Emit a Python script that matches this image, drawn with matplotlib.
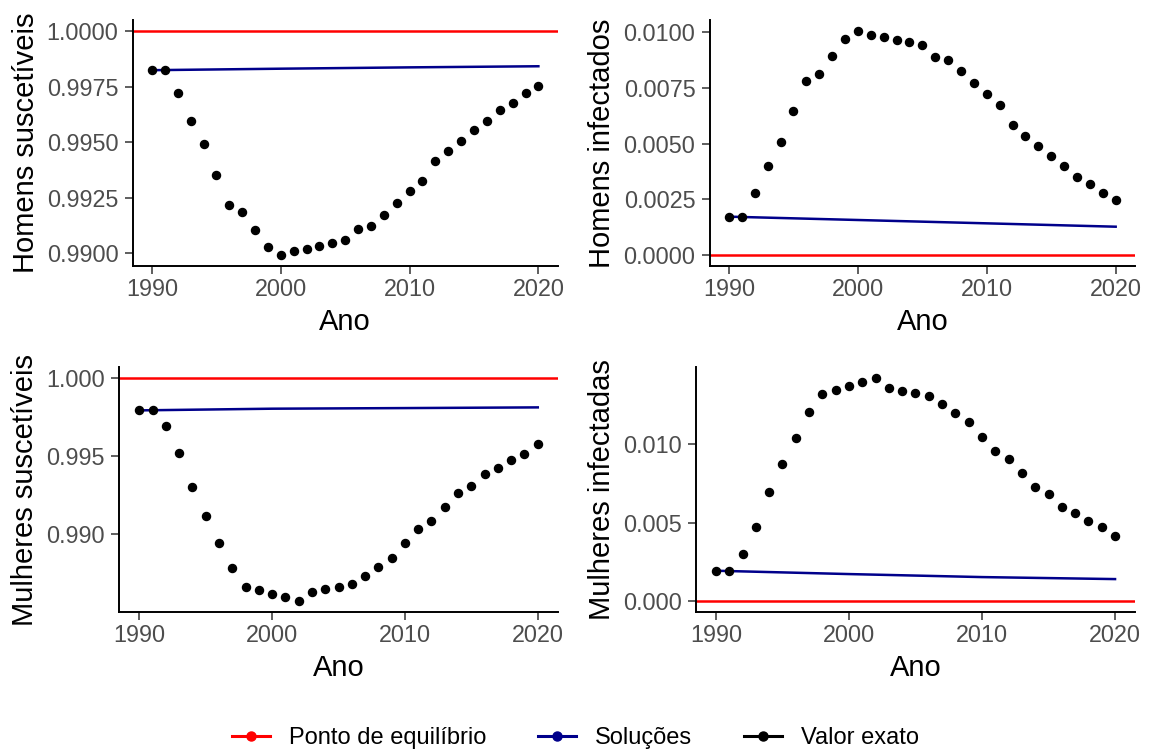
import matplotlib
matplotlib.use("Agg")
import matplotlib.pyplot as plt
from matplotlib.lines import Line2D
from matplotlib.ticker import FormatStrFormatter
import numpy as np

plt.rcParams['font.family'] = ['Liberation Sans', 'DejaVu Sans']

anos = list(range(1990, 2021))

# valor exato (pontos)
homens_s = [0.998243, 0.998243, 0.997207, 0.995976, 0.994895, 0.993514, 0.992147, 0.991832,
            0.991036, 0.990255, 0.989925, 0.990075, 0.990195, 0.990330, 0.990450, 0.990571,
            0.991096, 0.991201, 0.991727, 0.992252, 0.992778, 0.993258, 0.994144, 0.994610,
            0.995075, 0.995541, 0.995976, 0.996456, 0.996772, 0.997207, 0.997508]
homens_i = [0.001714, 0.001714, 0.002767, 0.004000, 0.005068, 0.006451, 0.007805, 0.008135,
            0.008947, 0.009714, 0.010045, 0.009895, 0.009789, 0.009654, 0.009549, 0.009444,
            0.008887, 0.008767, 0.008241, 0.007729, 0.007203, 0.006707, 0.005820, 0.005353,
            0.004887, 0.004421, 0.004000, 0.003504, 0.003188, 0.002767, 0.002466]
mulheres_s = [0.997932, 0.997932, 0.996908, 0.995181, 0.992985, 0.991173, 0.989446, 0.987804,
              0.986631, 0.986418, 0.986162, 0.985928, 0.985693, 0.986311, 0.986461, 0.986631,
              0.986802, 0.987313, 0.987889, 0.988465, 0.989424, 0.990299, 0.990832, 0.991748,
              0.992601, 0.993049, 0.993859, 0.994243, 0.994733, 0.995160, 0.995757]
mulheres_i = [0.001940, 0.001940, 0.003006, 0.004733, 0.006930, 0.008721, 0.010405, 0.012090,
              0.013241, 0.013475, 0.013731, 0.013966, 0.014222, 0.013603, 0.013433, 0.013284,
              0.013113, 0.012559, 0.011983, 0.011429, 0.010490, 0.009595, 0.009062, 0.008145,
              0.007292, 0.006802, 0.006013, 0.005650, 0.005117, 0.004733, 0.004136]

# soluções (linha azul), lidas em 1990, 2000, 2010, 2020
anos_sol = [1990, 2000, 2010, 2020]
sol_homens_s = [0.998243, 0.99831, 0.99837, 0.99842]
sol_homens_i = [0.001714, 0.001564, 0.001414, 0.001263]
sol_mulheres_s = [0.997932, 0.99804, 0.99808, 0.998124]
sol_mulheres_i = [0.001940, 0.001727, 0.001535, 0.001407]

# ponto de equilíbrio
eq_s = 1.0
eq_i = 0.0

W, H = 1151, 752
fig = plt.figure(figsize=(W / 100, H / 100), dpi=100)

def px(l, t, r, b):
    return [l / W, 1 - b / H, (r - l) / W, (b - t) / H]

paineis = [
    (px(132.7, 20, 557.7, 266), homens_s, sol_homens_s, eq_s, 'Homens suscetíveis',
     np.arange(0.99, 1.0001, 0.0025), '%.4f'),
    (px(709.7, 20, 1135, 266), homens_i, sol_homens_i, eq_i, 'Homens infectados',
     np.arange(0.0, 0.0101, 0.0025), '%.4f'),
    (px(119.3, 367, 557.7, 612.3), mulheres_s, sol_mulheres_s, eq_s, 'Mulheres suscetíveis',
     [0.990, 0.995, 1.000], '%.3f'),
    (px(696, 367, 1135, 612.3), mulheres_i, sol_mulheres_i, eq_i, 'Mulheres infectadas',
     [0.000, 0.005, 0.010], '%.3f'),
]

for pos, exato, sol, eq, titulo, yt, fmt in paineis:
    ax = fig.add_axes(pos)
    ax.axhline(eq, color='red', lw=1.8, zorder=1)
    ax.plot(anos_sol, sol, color='#00008B', lw=1.8, zorder=2)
    ax.plot(anos, exato, 'o', color='black', ms=5.8, zorder=3)
    ax.margins(x=0.05, y=0.05)
    ax.set_xticks([1990, 2000, 2010, 2020])
    ax.set_yticks(yt)
    ax.yaxis.set_major_formatter(FormatStrFormatter(fmt))
    for s in ['top', 'right']:
        ax.spines[s].set_visible(False)
    for s in ['left', 'bottom']:
        ax.spines[s].set_linewidth(1.4)
    ax.tick_params(length=5.5, width=1.1, color='#333333', labelcolor='#4D4D4D',
                   labelsize=16.8)
    ax.tick_params(axis='x', pad=3)
    ax.tick_params(axis='y', pad=4.8)
    ax.set_xlabel('Ano', fontsize=21, labelpad=5)
    ax.set_ylabel(titulo, fontsize=21, labelpad=5)

handles = [Line2D([], [], color=c, marker='o', ms=6.5, lw=2.2) for c in ['red', '#00008B', 'black']]
fig.legend(handles, ['Ponto de equilíbrio', 'Soluções', 'Valor exato'], loc='center',
           bbox_to_anchor=(0.5, 1 - 738 / H), ncol=3, frameon=False, fontsize=17,
           handlelength=1.6, columnspacing=2.2, handletextpad=0.8)

fig.savefig('out.png', dpi=100)
